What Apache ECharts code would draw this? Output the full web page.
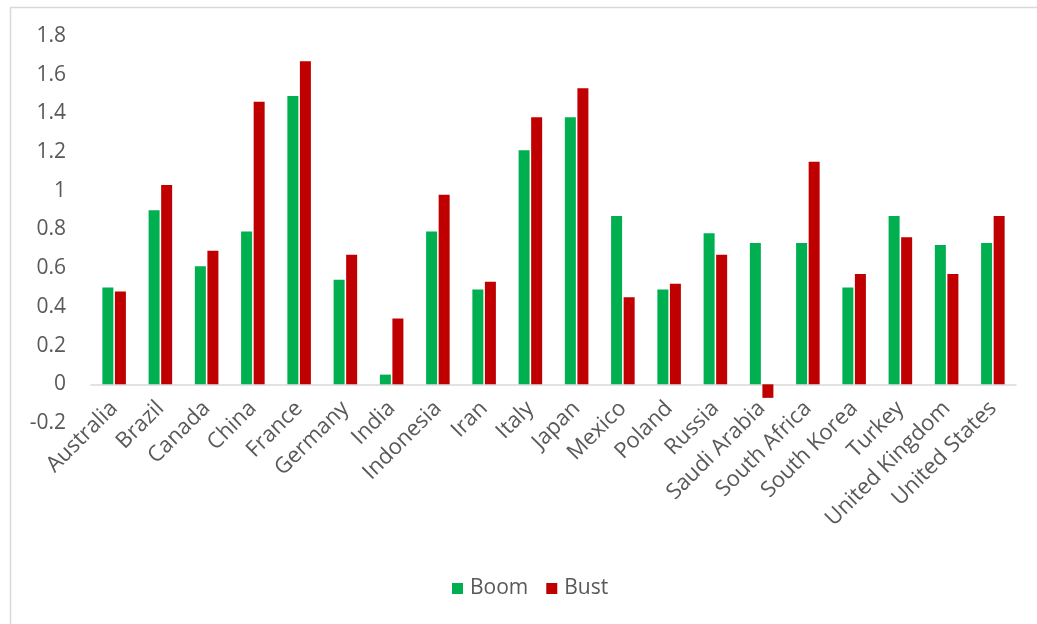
<!DOCTYPE html>
<html>
<head>
<meta charset="utf-8">
<script src="https://cdn.jsdelivr.net/npm/echarts@6/dist/echarts.min.js"></script>
<style>
  html, body { margin: 0; padding: 0; background: #fff; }
  #chart { width: 1037px; height: 624px; }
</style>
</head>
<body>
<div id="chart"></div>
<script>
// Countries along the category axis
const countries = [
  'Australia', 'Brazil', 'Canada', 'China', 'France', 'Germany', 'India',
  'Indonesia', 'Iran', 'Italy', 'Japan', 'Mexico', 'Poland', 'Russia',
  'Saudi Arabia', 'South Africa', 'South Korea', 'Turkey',
  'United Kingdom', 'United States'
];

// Values during boom periods
const boom = [
  0.50, 0.90, 0.61, 0.79, 1.49, 0.54, 0.05, 0.79, 0.49, 1.21,
  1.38, 0.87, 0.49, 0.78, 0.73, 0.73, 0.50, 0.87, 0.72, 0.73
];

// Values during bust periods
const bust = [
  0.48, 1.03, 0.69, 1.46, 1.67, 0.67, 0.34, 0.98, 0.53, 1.38,
  1.53, 0.45, 0.52, 0.67, -0.07, 1.15, 0.57, 0.76, 0.57, 0.87
];

// Value axis range
const yMin = -0.2;
const yMax = 1.8;
const yStep = 0.2;

const font = '"Open Sans", "Liberation Sans", sans-serif';
const textColor = '#595959';

const chart = echarts.init(document.getElementById('chart'), null, { renderer: 'canvas' });

chart.setOption({
  animation: false,
  backgroundColor: '#ffffff',
  graphic: [{
    type: 'rect',
    left: 8,
    top: 5,
    shape: { width: 1100, height: 700 },
    style: { fill: 'none', stroke: '#D9D9D9', lineWidth: 1.5 },
    silent: true,
    z: -1
  }],
  grid: { left: 91, right: 21, top: 36, bottom: 201, containLabel: false },
  legend: {
    bottom: 20,
    left: 447,
    itemWidth: 11,
    itemHeight: 11,
    itemGap: 18,
    icon: 'rect',
    textStyle: { fontFamily: font, fontSize: 21, color: textColor, padding: [0, 0, 0, 2] },
    data: ['Boom', 'Bust']
  },
  xAxis: {
    type: 'category',
    data: countries,
    axisLine: { onZero: true, lineStyle: { color: '#D9D9D9', width: 1.5 } },
    axisTick: { show: false },
    axisLabel: {
      interval: 0,
      rotate: 45,
      margin: -18,
      fontFamily: font,
      fontSize: 22,
      color: textColor
    }
  },
  yAxis: {
    type: 'value',
    min: yMin,
    max: yMax,
    interval: yStep,
    splitLine: { show: false },
    axisLine: { show: false },
    axisTick: { show: false },
    axisLabel: {
      margin: 25,
      fontFamily: font,
      fontSize: 21,
      color: textColor,
      formatter: v => String(Math.round(v * 10) / 10)
    }
  },
  series: [
    {
      name: 'Boom',
      type: 'bar',
      data: boom,
      barWidth: 11,
      barGap: '14%',
      itemStyle: { color: '#00B050' }
    },
    {
      name: 'Bust',
      type: 'bar',
      data: bust,
      barWidth: 11,
      itemStyle: { color: '#C00000' }
    }
  ]
});
</script>
</body>
</html>
